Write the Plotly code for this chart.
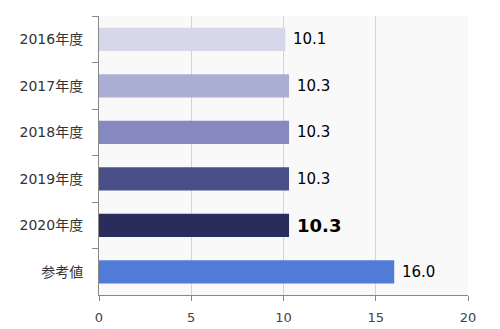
import plotly.graph_objects as go

categories = ["2016年度", "2017年度", "2018年度", "2019年度", "2020年度", "参考値"]
values = [10.1, 10.3, 10.3, 10.3, 10.3, 16.0]
colors = ["#d7d7ea", "#aaaed4", "#8589c0", "#4a4f8a", "#2a2d5c", "#507cd8"]
x_ticks = [0, 5, 10, 15, 20]

font_family = "DejaVu Sans, Noto Sans CJK JP, sans-serif"

fig = go.Figure()
fig.add_trace(go.Bar(
    y=categories, x=values, orientation="h",
    marker=dict(color=colors, line=dict(width=0)),
    hoverinfo="skip",
))

for i, (c, v) in enumerate(zip(categories, values)):
    bold = (c == "2020年度")
    fig.add_annotation(
        x=v, y=c, text=(f"<b>{v:.1f}</b>" if bold else f"{v:.1f}"),
        showarrow=False, xanchor="left", xshift=6,
        font=dict(size=18 if bold else 15, color="#000000", family=font_family),
    )

fig.update_layout(
    width=500, height=329,
    margin=dict(l=99, r=32, t=16, b=34),
    paper_bgcolor="#ffffff", plot_bgcolor="#f9f9f9",
    bargap=0.5, showlegend=False,
    font=dict(family=font_family, size=13, color="#333333"),
)
fig.update_xaxes(
    range=[0, 20], tickvals=x_ticks, ticktext=[str(t) for t in x_ticks],
    showgrid=True, gridcolor="#d3d3d3", gridwidth=1,
    showline=True, linecolor="#888888", linewidth=1,
    ticks="outside", ticklen=5, tickcolor="#888888",
    zeroline=False, tickfont=dict(size=13, color="#444444"),
    ticklabelstandoff=5, automargin=False,
)
fig.update_yaxes(
    categoryorder="array", categoryarray=categories, autorange="reversed",
    showline=True, linecolor="#888888", linewidth=1,
    ticks="outside", ticklen=6, tickcolor="#888888", tickson="boundaries",
    showgrid=False, tickfont=dict(size=14, color="#333333"),
    ticklabelstandoff=12, automargin=False,
)

fig.write_html("out.html")
